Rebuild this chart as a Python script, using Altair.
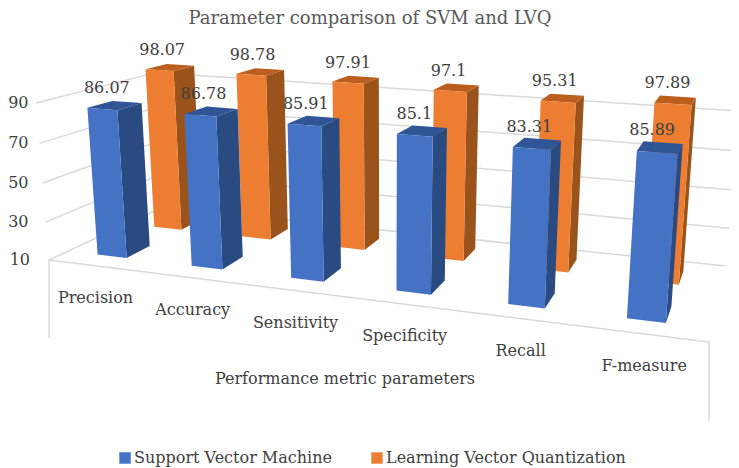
import numpy as np
import pandas as pd
import altair as alt

title_text = "Parameter comparison of SVM and LVQ"
x_title = "Performance metric parameters"
categories = ["Precision", "Accuracy", "Sensitivity", "Specificity", "Recall", "F-measure"]
series = ["Support Vector Machine", "Learning Vector Quantization"]
svm = [86.07, 86.78, 85.91, 85.1, 83.31, 85.89]
lvq = [98.07, 98.78, 97.91, 97.1, 95.31, 97.89]
ticks = [10, 30, 50, 70, 90]

FONT = "DejaVu Serif"
TXT = "#404040"
FS = 16

# camera of the 3-D box: floor corners give a homography, wall tops give the height column
floor_uv = [(0, 0), (1, 0), (1, 1), (0, 1)]
floor_px = [(49, 260), (709, 342), (726, 266), (162.8, 207)]
top_3d = [(0, 0), (1, 1), (0, 1)]
top_px = [(36.7, 104.3), (739, 107), (155, 75)]

rows, rhs = [], []
for (a, b), (u, v) in zip(floor_uv, floor_px):
    rows.append([a, b, 1, 0, 0, 0, -u * a, -u * b]); rhs.append(u)
    rows.append([0, 0, 0, a, b, 1, -v * a, -v * b]); rhs.append(v)
h = np.linalg.solve(np.array(rows, float), np.array(rhs, float))
H = np.array([[h[0], h[1], h[2]], [h[3], h[4], h[5]], [h[6], h[7], 1.0]])

rows, rhs = [], []
for (a, b), (u, v) in zip(top_3d, top_px):
    f = H @ np.array([a, b, 1.0])
    rows.append([1, 0, -u]); rhs.append(u * f[2] - f[0])
    rows.append([0, 1, -v]); rhs.append(v * f[2] - f[1])
C = np.linalg.lstsq(np.array(rows, float), np.array(rhs, float), rcond=None)[0]


def proj(a, b, c):
    p = H @ np.array([a / 6, b, 1.0]) + C * (c - 10) / 80
    return float(p[0] / p[2]), float(p[1] / p[2])


BAR_X = (0.32, 0.635)
BAR_Y = {0: (0.15, 0.35), 1: (0.65, 0.85)}
SHADES = {0: ("#4472C4", "#2A4A82", "#2F5597"), 1: ("#ED7D31", "#9A531B", "#BC5F1E")}

faces = []
labels = []
fid = 0
for s, vals in [(1, lvq), (0, svm)]:
    yf, yb = BAR_Y[s]
    front, side, top = SHADES[s]
    for i, val in enumerate(vals):
        x0, x1 = i + BAR_X[0], i + BAR_X[1]
        polys = [
            (side, [(x1, yf, 10), (x1, yb, 10), (x1, yb, val), (x1, yf, val)]),
            (top, [(x0, yf, val), (x1, yf, val), (x1, yb, val), (x0, yb, val)]),
            (front, [(x0, yf, 10), (x1, yf, 10), (x1, yf, val), (x0, yf, val)]),
        ]
        for col, pts in polys:
            for k, p in enumerate(pts):
                px, py = proj(*p)
                faces.append(dict(fid=f"f{fid:03d}", k=k, px=px, py=py, col=col))
            fid += 1
        lx, ly = proj(i + sum(BAR_X) / 2, (yf + yb) / 2, val)
        labels.append(dict(px=lx, py=ly, t=str(val)))
faces = pd.DataFrame(faces)
labels = pd.DataFrame(labels)

grid = []
gid = 0
for t in ticks:
    for k, p in enumerate([(0, 0, t), (0, 1, t), (6, 1, t)]):
        px, py = proj(*p)
        grid.append(dict(g=f"g{gid}", k=k, px=px, py=py))
    gid += 1
for k, p in enumerate([(0, 0, 10), (6, 0, 10)]):
    px, py = proj(*p)
    grid.append(dict(g=f"g{gid}", k=k, px=px, py=py))
gid += 1
for a, drop in [(0, 78), (6, 79)]:
    px, py = proj(a, 0, 10)
    grid.append(dict(g=f"g{gid}", k=0, px=px, py=py))
    grid.append(dict(g=f"g{gid}", k=1, px=px, py=py + drop))
    gid += 1
grid = pd.DataFrame(grid)

tick_df = pd.DataFrame([dict(px=max(proj(0, 0, t)[0] - 19, 28.5), py=proj(0, 0, t)[1], t=str(t)) for t in ticks])
cat_df = pd.DataFrame([dict(zip(("px", "py"), proj(i + 0.5, 0, 10))) | {"t": c} for i, c in enumerate(categories)])
title_df = pd.DataFrame([dict(px=370, py=19, t=title_text)])
xt_df = pd.DataFrame([dict(px=345, py=379, t=x_title)])
leg_df = pd.DataFrame({"series": series, "px": [100, 100], "py": [100, 100]})

X = alt.X("px:Q", scale=alt.Scale(domain=[8, 731], nice=False, zero=False), axis=None)
Y = alt.Y("py:Q", scale=alt.Scale(domain=[468, 8], nice=False, zero=False), axis=None)

grid_l = alt.Chart(grid).mark_line(color="#D9D9D9", strokeWidth=1.5).encode(x=X, y=Y, detail="g:N", order="k:Q")
face_l = alt.Chart(faces).mark_line(filled=True, interpolate="linear-closed", strokeWidth=0).encode(
    x=X, y=Y, detail="fid:N", order="k:Q", color=alt.Color("col:N", scale=None, legend=None)
)


def txt(df, dx=0, dy=0, align="center", size=FS, color=TXT):
    return alt.Chart(df).mark_text(font=FONT, fontSize=size, color=color, dx=dx, dy=dy, align=align, baseline="middle").encode(
        x=X, y=Y, text="t:N"
    )


legend_l = alt.Chart(leg_df).mark_square(size=0).encode(
    x=X, y=Y,
    color=alt.Color(
        "series:N",
        scale=alt.Scale(domain=series, range=["#4472C4", "#ED7D31"]),
        legend=alt.Legend(
            orient="none", legendX=109, legendY=442, direction="horizontal", title=None,
            symbolType="square", symbolSize=130, symbolOpacity=1, symbolStrokeWidth=0,
            labelFont=FONT, labelFontSize=FS, labelColor=TXT, columnPadding=37, labelOffset=1,
            labelLimit=400,
        ),
    ),
)

chart = alt.layer(
    grid_l,
    face_l,
    txt(labels, dx=-8, dy=-17),
    txt(tick_df, align="right"),
    txt(cat_df, dy=32),
    txt(title_df, size=18, color="#595959"),
    txt(xt_df),
    legend_l,
).resolve_scale(color="independent").properties(
    width=723, height=460, padding=0, autosize="none", background="white"
).configure_view(stroke=None)

chart.save("out.html", embed_options={"renderer": "svg", "actions": False})
